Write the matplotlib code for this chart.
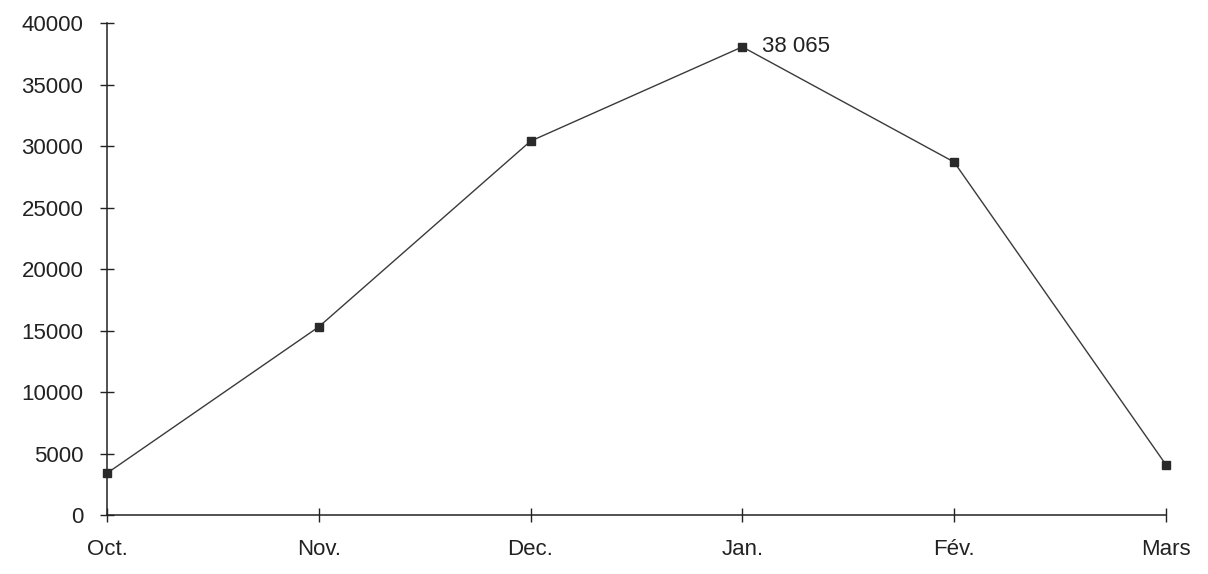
import matplotlib.pyplot as plt

plt.rcParams['font.family'] = ['Liberation Sans', 'DejaVu Sans']

months = ["Oct.", "Nov.", "Dec.", "Jan.", "Fév.", "Mars"]
values = [3400, 15300, 30400, 38065, 28700, 4100]
peak_label = "38 065"
y_ticks = [0, 5000, 10000, 15000, 20000, 25000, 30000, 35000, 40000]

fig = plt.figure(figsize=(12.08, 5.74), dpi=100)
ax = fig.add_axes([0.0886, 0.1028, 0.8765, 0.857])

x = list(range(len(months)))
ax.plot(x, values, color='#3a3a3a', linewidth=1.0,
        marker='s', markersize=6, markerfacecolor='#2a2a2a',
        markeredgecolor='#2a2a2a', clip_on=False, zorder=3)

peak = values.index(max(values))
ax.annotate(peak_label, (x[peak], values[peak]), xytext=(14, 0),
            textcoords='offset points', va='center', ha='left',
            fontsize=16, color='#222222')

ax.set_xlim(0, len(months) - 1)
ax.set_ylim(0, 40000)
ax.set_xticks(x)
ax.set_xticklabels(months)
ax.set_yticks(y_ticks)

for side in ['top', 'right']:
    ax.spines[side].set_visible(False)
for side in ['left', 'bottom']:
    ax.spines[side].set_color('#222222')
    ax.spines[side].set_linewidth(1.1)

ax.tick_params(axis='y', direction='inout', length=10, width=1.0,
               labelsize=16, pad=12, colors='#222222')
ax.tick_params(axis='x', direction='inout', length=10, width=1.0,
               labelsize=16, pad=12, colors='#222222')

fig.savefig("out.png", dpi=100)
